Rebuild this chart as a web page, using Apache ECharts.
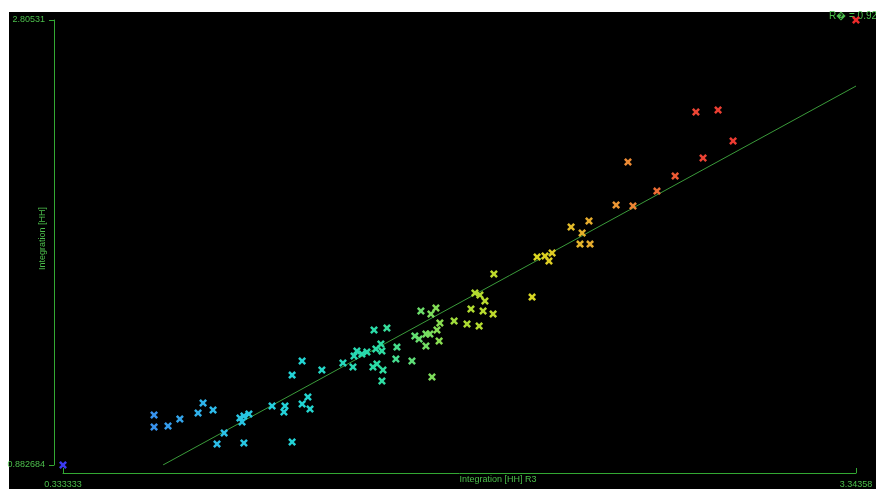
<!DOCTYPE html>
<html>
<head>
<meta charset="utf-8">
<script src="https://cdn.jsdelivr.net/npm/echarts@6/dist/echarts.min.js"></script>
<style>
html, body { margin: 0; padding: 0; background: #fff; }
#panel { position: absolute; left: 9px; top: 12px; width: 867px; height: 477px; background: #000; }
#chart { position: absolute; left: 0; top: 0; width: 876px; height: 489px; }
</style>
</head>
<body>
<div id="panel"></div>
<div id="chart"></div>
<script>
// Integration [HH] R3 (x) against Integration [HH] (y)
var xVals = [0.333333, 3.34358, 0.679, 0.679, 0.732, 0.777, 0.846, 0.865, 0.903, 0.945,
	0.918, 1.005, 1.013, 1.020, 1.039, 1.020, 1.127, 1.176, 1.172, 1.203,
	1.241, 1.263, 1.271, 1.203, 1.241, 1.316, 1.396, 1.434, 1.438, 1.449,
	1.468, 1.487, 1.510, 1.525, 1.548, 1.544, 1.514, 1.563, 1.521, 1.540,
	1.544, 1.601, 1.597, 1.658, 1.669, 1.685, 1.711, 1.726, 1.711, 1.761,
	1.753, 1.764, 1.692, 1.749, 1.730, 1.734, 1.818, 1.867, 1.882, 1.913,
	1.928, 1.966, 1.897, 1.916, 1.935, 1.969, 2.114, 2.133, 2.163, 2.190,
	2.178, 2.262, 2.296, 2.334, 2.304, 2.330, 2.433, 2.497, 2.478, 2.588,
	2.657, 2.736, 2.820, 2.763, 2.877];
var yVals = [0.882684, 2.80531, 1.099, 1.047, 1.051, 1.081, 1.107, 1.151, 1.120, 1.021,
	0.973, 1.086, 1.068, 1.094, 1.103, 0.978, 1.138, 1.138, 1.112, 0.982,
	1.146, 1.176, 1.125, 1.271, 1.332, 1.293, 1.323, 1.306, 1.354, 1.375,
	1.362, 1.371, 1.306, 1.319, 1.293, 1.246, 1.466, 1.475, 1.384, 1.405,
	1.375, 1.392, 1.341, 1.332, 1.440, 1.427, 1.449, 1.449, 1.397, 1.418,
	1.466, 1.496, 1.548, 1.561, 1.535, 1.263, 1.505, 1.492, 1.557, 1.483,
	1.548, 1.535, 1.626, 1.617, 1.591, 1.708, 1.608, 1.781, 1.786, 1.799,
	1.764, 1.911, 1.837, 1.837, 1.885, 1.937, 2.006, 2.002, 2.192, 2.066,
	2.131, 2.408, 2.416, 2.209, 2.283];

// regression line end points
var fitX = [0.713, 3.34358];
var fitY = [0.8827, 2.520];

var xRange = [0.333333, 3.34358];
var yRange = [0.882684, 2.80531];
var xTickLabels = ['0.333333', '3.34358'];
var yTickLabels = ['0.882684', '2.80531'];
var rSquaredText = 'R\uFFFD = 0.9203';

var axisGreen = '#33a833';
var textGreen = '#4cbf4c';
// bold x marker
var crossPath = 'path://M2.2,0 L5,2.8 L7.8,0 L10,2.2 L7.2,5 L10,7.8 L7.8,10 L5,7.2 L2.2,10 L0,7.8 L2.8,5 L0,2.2 Z';

var points = [];
for(var i = 0; i < xVals.length; i++){
	points.push([xVals[i], yVals[i]]);
}
var fitData = [];
for(var i = 0; i < fitX.length; i++){
	fitData.push([fitX[i], fitY[i]]);
}

function pickLabel(v, range, labels){
	return Math.abs(v - range[0]) < Math.abs(v - range[1]) ? labels[0] : labels[1];
}

var theChart = echarts.init(document.getElementById('chart'), null, {renderer: 'canvas'});

var option = {
	backgroundColor: 'transparent',
	animation: false,
	grid: {
		left: 63,
		right: 20,
		top: 20,
		bottom: 24,
		containLabel: false,
		outerBoundsMode: 'none'
	},
	xAxis: {
		type: 'value',
		min: xRange[0],
		max: xRange[1],
		offset: 8,
		name: 'Integration [HH] R3',
		nameLocation: 'middle',
		nameGap: 2,
		nameMoveOverlap: false,
		nameTextStyle: {color: textGreen, fontSize: 9, fontFamily: 'Liberation Sans', align: 'left'},
		axisLine: {show: true, lineStyle: {color: axisGreen, width: 1}},
		axisTick: {show: true, inside: true, length: 5, customValues: xRange, lineStyle: {color: axisGreen}},
		axisLabel: {
			customValues: xRange,
			margin: 7,
			color: textGreen,
			fontSize: 9,
			fontFamily: 'Liberation Sans',
			formatter: function(v){ return pickLabel(v, xRange, xTickLabels); }
		},
		splitLine: {show: false}
	},
	yAxis: {
		type: 'value',
		min: yRange[0],
		max: yRange[1],
		offset: 9,
		name: 'Integration [HH]',
		nameLocation: 'middle',
		nameGap: 7,
		nameRotate: 90,
		nameMoveOverlap: false,
		nameTextStyle: {color: textGreen, fontSize: 9, fontFamily: 'Liberation Sans', padding: [0, 0, 0, 8]},
		axisLine: {show: true, lineStyle: {color: axisGreen, width: 1}},
		axisTick: {show: true, inside: false, length: 5, customValues: yRange, lineStyle: {color: axisGreen}},
		axisLabel: {
			customValues: yRange,
			margin: 9,
			color: textGreen,
			fontSize: 9,
			fontFamily: 'Liberation Sans',
			formatter: function(v){ return pickLabel(v, yRange, yTickLabels); }
		},
		splitLine: {show: false}
	},
	visualMap: {
		type: 'continuous',
		show: false,
		dimension: 0,
		seriesIndex: 0,
		min: xRange[0],
		max: xRange[1],
		inRange: {
			color: ['#3c3cf0', '#3a8aee', '#2cc0e8', '#22d4d4', '#2cdca4', '#a8dc34', '#dcd622', '#ec9434', '#ec4434', '#ec3030', '#ec2a2a']
		}
	},
	series: [{
		type: 'scatter',
		data: points,
		symbol: crossPath,
		symbolSize: 8,
		itemStyle: {opacity: 1},
		z: 3
	}, {
		type: 'line',
		data: fitData,
		symbol: 'none',
		lineStyle: {color: '#3a9a3a', width: 1},
		z: 2,
		silent: true
	}],
	graphic: [{
		type: 'text',
		left: 829,
		top: 11,
		z: 1,
		style: {text: rSquaredText, fill: textGreen, fontSize: 10, fontFamily: 'Liberation Sans'}
	}]
};

theChart.setOption(option);
</script>
</body>
</html>
